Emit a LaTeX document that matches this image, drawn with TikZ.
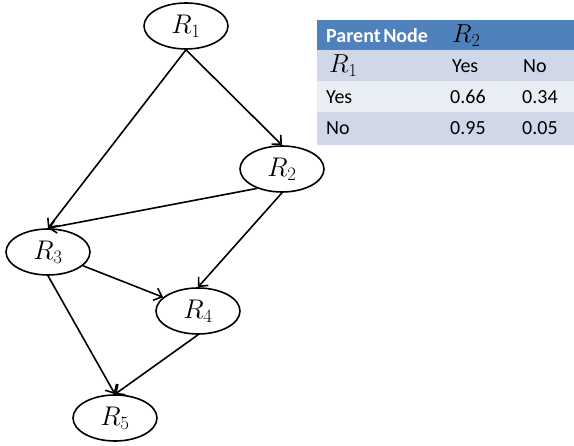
\RequirePackage{fix-cm}
\documentclass[tikz,border=0pt]{standalone}
\usepackage{amsmath}
\usepackage{fontspec}
\newfontfamily\tabfont{Carlito}
\usepackage{xcolor}
\usetikzlibrary{arrows.meta,shapes.geometric}

\definecolor{headblue}{HTML}{4F81BD}
\definecolor{banddark}{HTML}{D0D8E8}
\definecolor{bandlight}{HTML}{E9EDF4}

\tikzset{
	var/.style={
			ellipse, draw, line width=1.6pt,
			minimum width=84pt, minimum height=46pt, inner sep=0pt,
			font=\fontsize{27}{31}\selectfont
		}
}
\tikzstyle{e} = [line width=1.6pt, -{Straight Barb[length=7pt,width=13pt,line width=1.6pt]}]
\tikzstyle{cell} = [fill, draw=white, line width=2pt]
\tikzstyle{t} = [anchor=west, inner sep=0pt, font=\tabfont\fontsize{20}{24}\selectfont]
\tikzstyle{m} = [anchor=west, inner sep=0pt, font=\fontsize{26}{30}\selectfont]

\begin{document}
\begin{tikzpicture}[x=1pt, y=-1pt]
  \useasboundingbox (0,0) rectangle (574,446);

  % Nodes
  \node[var] (R1) at (186, 26)  {$R_1$};
  \node[var] (R2) at (282, 169) {$R_2$};
  \node[var] (R3) at (48, 252)  {$R_3$};
  \node[var] (R4) at (198, 311) {$R_4$};
  \node[var] (R5) at (115, 418) {$R_5$};

  % Arrows
  \draw[e] (R1.south) -- (R3.north);
  \draw[e] (R1.south) -- (R2.north);
  \draw[e] (R2.218) -- (R3.north);
  \draw[e] (R2.south) -- (R4.north);
  \draw[e] (R3) -- (R4);
  \draw[e] (R3.south) -- (R5.north);
  \draw[e] (R4.south) -- (R5.north);

  % Table cells
  \fill[cell, headblue] (318, 21) rectangle (443, 51);
  \fill[cell, headblue] (443, 21) rectangle (576, 51);
  \foreach \y/\c in {51/banddark, 82/bandlight, 113/banddark}{
    \fill[cell, \c] (318, \y) rectangle (443, \y+31);
    \fill[cell, \c] (443, \y) rectangle (514, \y+31);
    \fill[cell, \c] (514, \y) rectangle (576, \y+31);
  }

  % Table texts
  \node[t, white] (hd)  at (326, 36)  {\bfseries Parent\hspace{-2pt} Node};
  \node[m]        (hR2) at (452, 36)  {$R_2$};
  \node[m]        (cR1) at (329, 66)  {$R_1$};
  \node[t]        (cY)  at (452, 66)  {Yes};
  \node[t]        (cN)  at (523, 66)  {No};
  \node[t]        (rY)  at (326, 97)  {Yes};
  \node[t]        (a11) at (450, 97)  {0.66};
  \node[t]        (a12) at (522, 97)  {0.34};
  \node[t]        (rN)  at (326, 128) {No};
  \node[t]        (a21) at (450, 128) {0.95};
  \node[t]        (a22) at (522, 128) {0.05};
\end{tikzpicture}
\end{document}
